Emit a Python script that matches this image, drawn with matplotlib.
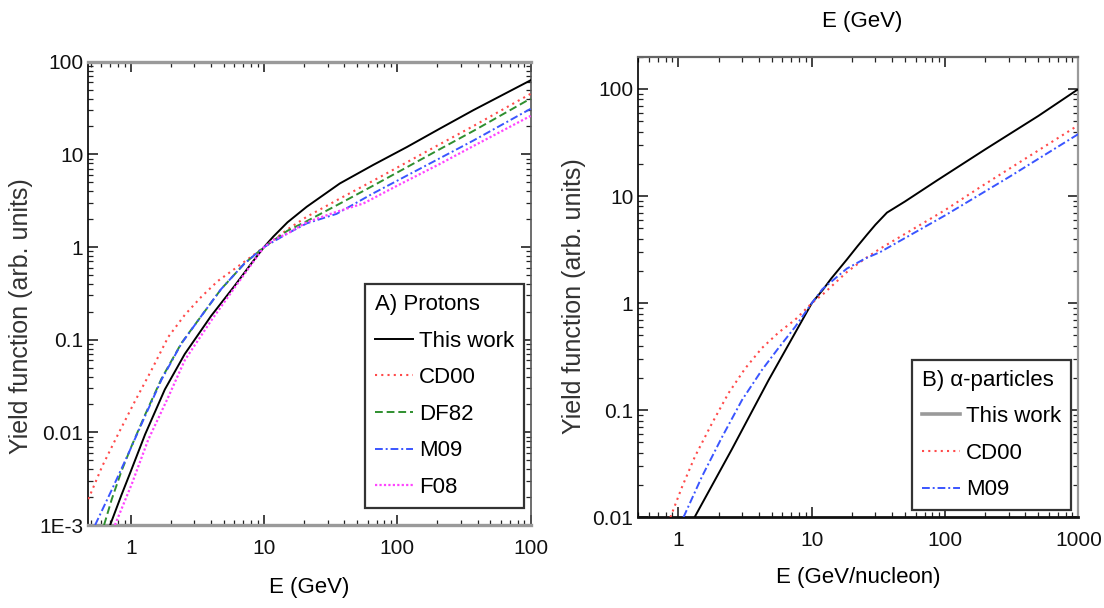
import matplotlib
matplotlib.use("Agg")

import matplotlib.pyplot as plt
from matplotlib.lines import Line2D
from matplotlib.ticker import FixedLocator, LogLocator, NullFormatter

plt.rcParams["font.family"] = ["Liberation Sans", "DejaVu Sans"]


# ─────────────────────────────────────────────────────────────────────────────
#  DATA
# ─────────────────────────────────────────────────────────────────────────────

# A) Protons, E in GeV
a_this_e = [0.70, 0.85, 1.0, 1.28, 1.8, 2.54, 4.0, 6.0, 8.0, 10, 11.7, 15, 20.9, 37, 66, 118, 209, 372, 1000]
a_this_y = [0.001, 0.0021, 0.0038, 0.0095, 0.029, 0.07, 0.18, 0.38, 0.66, 1.0, 1.29, 1.85, 2.72, 4.85, 7.7, 12, 19, 30, 63]

a_cd00_e = [0.48, 0.61, 0.81, 1.08, 1.43, 1.91, 2.54, 3.38, 4.5, 6.0, 7.95, 10, 15, 20.9, 37, 66, 209, 372, 1000]
a_cd00_y = [0.0019, 0.0043, 0.0098, 0.022, 0.047, 0.107, 0.185, 0.29, 0.43, 0.58, 0.78, 1.0, 1.55, 2.12, 3.33, 5.2, 12.9, 20.2, 45]

a_df82_e = [0.63, 0.72, 0.85, 1.0, 1.28, 1.70, 2.40, 3.38, 4.75, 7.1, 10, 15, 20.9, 37, 66, 209, 372, 1000]
a_df82_y = [0.001, 0.0019, 0.0038, 0.0068, 0.0155, 0.038, 0.092, 0.18, 0.35, 0.66, 1.0, 1.5, 1.9, 2.94, 4.6, 11.4, 17.9, 40]

a_m09_e = [0.54, 0.72, 0.96, 1.28, 1.70, 2.40, 3.38, 4.75, 7.1, 10, 15, 20.9, 35, 66, 209, 372, 1000]
a_m09_y = [0.001, 0.0024, 0.0059, 0.015, 0.037, 0.091, 0.18, 0.35, 0.66, 1.0, 1.4, 1.8, 2.28, 3.8, 9.1, 14.1, 31]

a_f08_e = [0.76, 1.02, 1.35, 1.91, 2.54, 4.0, 6.3, 10, 11.7, 15, 20.9, 35, 55.6, 100, 209, 372, 1000]
a_f08_y = [0.001, 0.0028, 0.0083, 0.024, 0.06, 0.16, 0.40, 1.0, 1.19, 1.4, 1.85, 2.4, 2.95, 4.6, 7.9, 12.3, 26]

# B) alpha-particles, E in GeV/nucleon
b_this_e = [1.32, 2.51, 4.73, 7.7, 10, 12.2, 14, 18.3, 22, 25.9, 30, 36.6, 50, 87, 200, 500, 1000]
b_this_y = [0.01, 0.043, 0.19, 0.56, 1.0, 1.35, 1.7, 2.55, 3.4, 4.35, 5.4, 7.0, 8.9, 14.0, 27.3, 56, 100]

b_cd00_e = [0.87, 1.06, 1.33, 1.78, 2.37, 3.16, 4.22, 5.62, 7.5, 10, 12.2, 18.3, 25, 32.6, 100, 183, 1000]
b_cd00_y = [0.01, 0.019, 0.037, 0.075, 0.144, 0.245, 0.38, 0.53, 0.70, 1.0, 1.22, 1.95, 2.6, 3.23, 7.4, 12.1, 46]

b_m09_e = [1.09, 1.50, 2.12, 2.99, 4.22, 5.62, 7.5, 10, 12, 13.7, 18.3, 25, 32.6, 100, 300, 1000]
b_m09_y = [0.01, 0.024, 0.056, 0.124, 0.237, 0.38, 0.60, 1.0, 1.35, 1.55, 2.1, 2.6, 3.0, 6.6, 15.0, 38]

a_series = [
    ("This work", a_this_e, a_this_y),
    ("CD00",      a_cd00_e, a_cd00_y),
    ("DF82",      a_df82_e, a_df82_y),
    ("M09",       a_m09_e,  a_m09_y),
    ("F08",       a_f08_e,  a_f08_y),
]
b_series = [
    ("This work", b_this_e, b_this_y),
    ("CD00",      b_cd00_e, b_cd00_y),
    ("M09",       b_m09_e,  b_m09_y),
]

STYLES = {
    "This work": dict(color="black",   linestyle="-",                   linewidth=1.4),
    "CD00":      dict(color="#ff4a4a", linestyle=(0, (1, 2)),           linewidth=1.5),
    "DF82":      dict(color="#2f8f2f", linestyle=(0, (4, 2)),           linewidth=1.4),
    "M09":       dict(color="#3a55ff", linestyle=(0, (4, 1.5, 1, 1.5)), linewidth=1.4),
    "F08":       dict(color="#ff44ff", linestyle=(0, (1, 1)),           linewidth=1.6),
}

FS = 15


# ─────────────────────────────────────────────────────────────────────────────
#  HELPERS
# ─────────────────────────────────────────────────────────────────────────────

def setup_axes(ax, xlim, ylim, yticks, yticklabels, xticklabels):

    ax.set_xscale("log")
    ax.set_yscale("log")
    ax.set_xlim(*xlim)
    ax.set_ylim(*ylim)

    ax.xaxis.set_major_locator(FixedLocator([1, 10, 100, 1000]))
    ax.set_xticklabels(xticklabels)
    ax.yaxis.set_major_locator(FixedLocator(yticks))
    ax.set_yticklabels(yticklabels)
    for axis in (ax.xaxis, ax.yaxis):
        axis.set_minor_locator(LogLocator(base=10, subs=range(2, 10), numticks=20))
        axis.set_minor_formatter(NullFormatter())

    ax.tick_params(which="both", direction="in", top=True, right=True,
                   labelsize=FS, color="#222222", labelcolor="#111111")
    ax.tick_params(which="major", length=7, width=1.2)
    ax.tick_params(which="minor", length=3.5, width=0.9)
    ax.tick_params(axis="x", pad=10)

    ax.set_ylabel("Yield function (arb. units)", fontsize=18, color="#333333")


def draw_series(ax, series):
    for name, e, y in series:
        ax.plot(e, y, **STYLES[name], zorder=3)


def add_legend(ax, handles, labels, title, anchor):
    leg = ax.legend(handles, labels,
                    title=title, title_fontsize=16, fontsize=16,
                    loc="lower right", bbox_to_anchor=anchor, borderaxespad=0,
                    alignment="left", fancybox=False, framealpha=1,
                    edgecolor="#333333", handlelength=1.7, handletextpad=0.3,
                    labelspacing=0.7, borderpad=0.45)
    leg.get_frame().set_linewidth(1.6)
    return leg


# ─────────────────────────────────────────────────────────────────────────────
#  FIGURE
# ─────────────────────────────────────────────────────────────────────────────

fig = plt.figure(figsize=(11.04, 6.08), dpi=100)

ax_a = fig.add_axes([0.080, 0.1365, 0.4006, 0.762])
ax_b = fig.add_axes([0.5782, 0.1492, 0.3987, 0.7575])

# --- panel A
draw_series(ax_a, a_series)
setup_axes(ax_a, (0.48, 1000), (1e-3, 100),
           [1e-3, 1e-2, 0.1, 1, 10, 100],
           ["1E-3", "0.01", "0.1", "1", "10", "100"],
           ["1", "10", "100", "100"])
ax_a.set_xlabel("E (GeV)", fontsize=16, labelpad=14)
ax_a.yaxis.set_label_coords(-0.124, 0.45)
for side in ("top", "bottom"):
    ax_a.spines[side].set_color("#9a9a9a")
    ax_a.spines[side].set_linewidth(2.4)
ax_a.spines["left"].set_linewidth(1.2)
ax_a.spines["right"].set_linewidth(1.2)
ax_a.spines["right"].set_color("#555555")

handles_a = [Line2D([0], [0], **STYLES[name]) for name, _, _ in a_series]
add_legend(ax_a, handles_a, [name for name, _, _ in a_series],
           "A) Protons", (0.986, 0.037))

# --- panel B
draw_series(ax_b, b_series)
setup_axes(ax_b, (0.5, 1000), (0.01, 200),
           [0.01, 0.1, 1, 10, 100],
           ["0.01", "0.1", "1", "10", "100"],
           ["1", "10", "100", "1000"])
ax_b.set_xlabel("E (GeV/nucleon)", fontsize=16, labelpad=12)
ax_b.yaxis.set_label_coords(-0.118, 0.48)
ax_b.spines["bottom"].set_linewidth(2.0)
ax_b.spines["bottom"].set_color("#111111")
ax_b.spines["top"].set_color("#666666")
ax_b.spines["top"].set_linewidth(1.6)
ax_b.spines["right"].set_color("#9a9a9a")
ax_b.spines["right"].set_linewidth(1.6)
ax_b.spines["left"].set_linewidth(1.2)

handles_b = [Line2D([0], [0], color="#9a9a9a", linewidth=2.6)]
handles_b += [Line2D([0], [0], **STYLES[name]) for name, _, _ in b_series[1:]]
add_legend(ax_b, handles_b, [name for name, _, _ in b_series],
           "B) α-particles", (0.984, 0.015))

# stray top axis label above panel B
fig.text(0.781, 0.965, "E (GeV)", ha="center", va="center", fontsize=16)

fig.savefig("out.png", dpi=100)
